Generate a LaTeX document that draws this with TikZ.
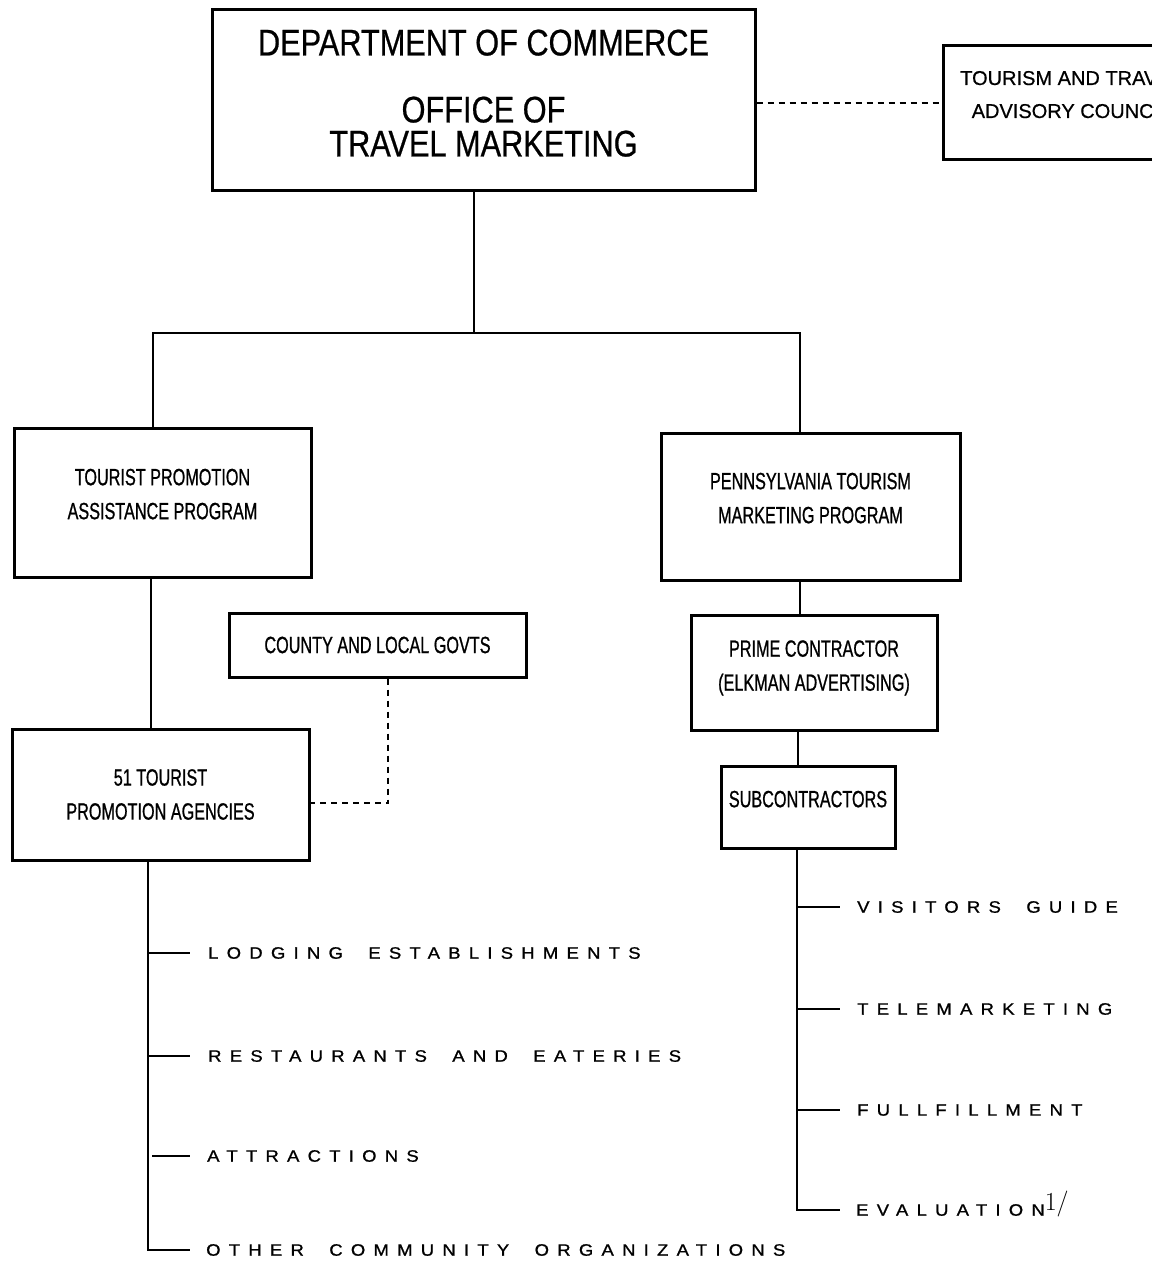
\documentclass[tikz,border=0pt]{standalone}
\usepackage{fontspec}
\usepackage{tikz}
\newfontfamily\titlefont[FakeStretch=0.83,FakeBold=0.6]{Liberation Sans}
\newfontfamily\boxfont[FakeStretch=0.69,FakeBold=0.8]{Liberation Sans}
\newfontfamily\advfont[FakeStretch=1.0,FakeBold=0.6]{Liberation Sans}
\newfontfamily\listfont[FakeStretch=1.12,LetterSpace=50,WordSpace=1.9,FakeBold=1]{Liberation Sans}

\begin{document}
\begin{tikzpicture}[x=1pt,y=1pt,yscale=-1,
        orgbox/.style={draw, line width=3pt, align=center, inner sep=0pt, font=\boxfont\fontsize{23.5}{34}\selectfont},
        link/.style={line width=1.6pt},
        dotlink/.style={line width=1.6pt, dash pattern=on 6pt off 5pt},
        item/.style={anchor=west, inner sep=0pt, font=\listfont\fontsize{16.5}{20}\selectfont}]
        \useasboundingbox (0,0) rectangle (1151,1268);
        
        % Boxes
        \node [orgbox, minimum width=543, minimum height=181, text depth=15pt, font=\titlefont\fontsize{37}{34}\selectfont] (doc) at (483.5,100.5) {DEPARTMENT OF COMMERCE\\[33pt]OFFICE OF\\TRAVEL MARKETING};
        \node [orgbox, minimum width=256, minimum height=114, text depth=17pt, font=\advfont\fontsize{20}{33}\selectfont] (adv) at (1071,103) {TOURISM AND TRAVEL\\ADVISORY COUNCIL};
        \node [orgbox, minimum width=297, minimum height=149, text depth=17pt] (tpap) at (162.5,502.5) {TOURIST PROMOTION\\ASSISTANCE PROGRAM};
        \node [orgbox, minimum width=297, minimum height=64] (county) at (377.5,645) {COUNTY AND LOCAL GOVTS};
        \node [orgbox, minimum width=297, minimum height=131] (tpa) at (160.5,794.5) {51 TOURIST\\PROMOTION AGENCIES};
        \node [orgbox, minimum width=299, minimum height=147, text depth=17pt] (ptmp) at (810.5,506.5) {PENNSYLVANIA TOURISM\\MARKETING PROGRAM};
        \node [orgbox, minimum width=246, minimum height=115, text depth=14pt] (prime) at (814,672.5) {PRIME CONTRACTOR\\(ELKMAN ADVERTISING)};
        \node [orgbox, minimum width=174, minimum height=82, text depth=16pt] (sub) at (808,807) {SUBCONTRACTORS};
        
        % Items
        \node [item] (lodging) at (208,953) {LODGING ESTABLISHMENTS};
        \node [item] (rest) at (208,1056) {RESTAURANTS AND EATERIES};
        \node [item] (attr) at (207,1156) {ATTRACTIONS};
        \node [item] (other) at (206,1250) {OTHER COMMUNITY ORGANIZATIONS};
        \node [item] (guide) at (857,907) {VISITORS GUIDE};
        \node [item] (tele) at (857,1009) {TELEMARKETING};
        \node [item] (fulfil) at (857,1110) {FULLFILLMENT};
        \node [item] (eval) at (856,1210) {EVALUATION\smash{\raisebox{5pt}{\normalfont\fontsize{26}{26}\selectfont 1/}}};
        
        % Bends
        \coordinate (split) at (474,333);
        \coordinate (lbus) at (153,333);
        \coordinate (rbus) at (800,333);
        \coordinate (cbend) at (388,803);
        \coordinate (ltrunk) at (148,0);
        \coordinate (rtrunk) at (797,0);
        
        % Lines
        \draw [link] (doc.south -| split) -- (split);
        \draw [link] (tpap.north -| lbus) -- (lbus) -- (rbus) -- (ptmp.north -| rbus);
        \draw [dotlink] (adv.west -| doc.east) -- (adv.west);
        \draw [link] (tpap.south -| 151,0) -- (tpa.north -| 151,0);
        \draw [dotlink] (county.south -| cbend) -- (cbend) -- (tpa.east |- cbend);
        \draw [link] (ptmp.south -| rbus) -- (prime.north -| rbus);
        \draw [link] (prime.south -| 798,0) -- (sub.north -| 798,0);
        
        \draw [link] (tpa.south -| ltrunk) |- ([xshift=-16pt]other.west);
        \draw [link] (lodging.west -| ltrunk) -- ([xshift=-18pt]lodging.west);
        \draw [link] (rest.west -| ltrunk) -- ([xshift=-18pt]rest.west);
        \draw [link] (attr.west -| 152,0) -- ([xshift=-17pt]attr.west);
        
        \draw [link] (sub.south -| rtrunk) |- ([xshift=-16pt]eval.west);
        \draw [link] (guide.west -| rtrunk) -- ([xshift=-17pt]guide.west);
        \draw [link] (tele.west -| rtrunk) -- ([xshift=-17pt]tele.west);
        \draw [link] (fulfil.west -| rtrunk) -- ([xshift=-17pt]fulfil.west);
        
\end{tikzpicture}
\end{document}
